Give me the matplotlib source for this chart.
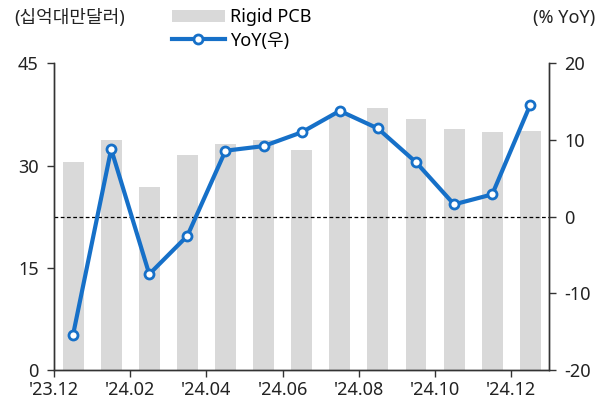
import numpy as np
import matplotlib.pyplot as plt
from matplotlib.lines import Line2D
from matplotlib.patches import Patch

plt.rcParams['font.family'] = ['Noto Sans', 'Noto Sans CJK KR', 'DejaVu Sans']
plt.rcParams['font.size'] = 13
plt.rcParams['axes.unicode_minus'] = False

months = ["'23.12", "'24.01", "'24.02", "'24.03", "'24.04", "'24.05", "'24.06",
          "'24.07", "'24.08", "'24.09", "'24.10", "'24.11", "'24.12"]
rigid_pcb = [30.5, 33.8, 26.9, 31.6, 33.2, 33.7, 32.3, 37.4, 38.4, 36.9, 35.4, 34.9, 35.1]
yoy = [-15.4, 8.8, -7.5, -2.5, 8.6, 9.2, 11.0, 13.8, 11.5, 7.1, 1.6, 2.9, 14.6]

BAR_COLOR = '#d9d9d9'
LINE_COLOR = '#1670c8'
AXIS_COLOR = '#333333'

fig = plt.figure(figsize=(6.07, 4.05), dpi=100)
ax = fig.add_axes([0.089, 0.0864, 0.816, 0.7573])
ax2 = ax.twinx()

x = np.arange(len(months))
ax.bar(x, rigid_pcb, width=0.55, color=BAR_COLOR, zorder=1)
ax2.axhline(0, color='black', linestyle=(0, (3, 2)), linewidth=0.9, zorder=2)
ax2.plot(x, yoy, '-o', color=LINE_COLOR, linewidth=3, markersize=6.5,
         markerfacecolor='white', markeredgecolor=LINE_COLOR, markeredgewidth=2, zorder=3)

ax.set_xlim(-0.5, len(months) - 0.5)
ax.set_ylim(0, 45)
ax.set_yticks([0, 15, 30, 45])
ax2.set_ylim(-20, 20)
ax2.set_yticks([-20, -10, 0, 10, 20])

# month labels sit on the slot boundaries, every other month
ax.set_xticks(x[::2] - 0.5)
ax.set_xticklabels(months[::2])

for a in (ax, ax2):
    a.spines['top'].set_visible(False)
    for s in ('left', 'right', 'bottom'):
        a.spines[s].set_color(AXIS_COLOR)
        a.spines[s].set_linewidth(1.0)
    a.tick_params(colors=AXIS_COLOR, labelcolor='#222222', length=5, width=1.0, pad=4)
ax.tick_params(axis='y', pad=6)
ax2.tick_params(axis='y', pad=6)
ax.tick_params(axis='x', pad=3)

fig.text(14 / 607, 1 - 18 / 405, '(십억대만달러)', ha='left', va='center', color='#222222')
fig.text(595 / 607, 1 - 18 / 405, '(% YoY)', ha='right', va='center', color='#222222')

handles = [Patch(facecolor=BAR_COLOR, edgecolor='none'),
           Line2D([], [], color=LINE_COLOR, linewidth=3, marker='o', markersize=6.5,
                  markerfacecolor='white', markeredgecolor=LINE_COLOR, markeredgewidth=2)]
fig.legend(handles, ['Rigid PCB', 'YoY(우)'], loc='upper left',
           bbox_to_anchor=(165 / 607, 1 - 1 / 405), frameon=False,
           handlelength=2.9, handletextpad=0.3, labelspacing=0.3, borderaxespad=0)

fig.savefig('out.png', dpi=100)
